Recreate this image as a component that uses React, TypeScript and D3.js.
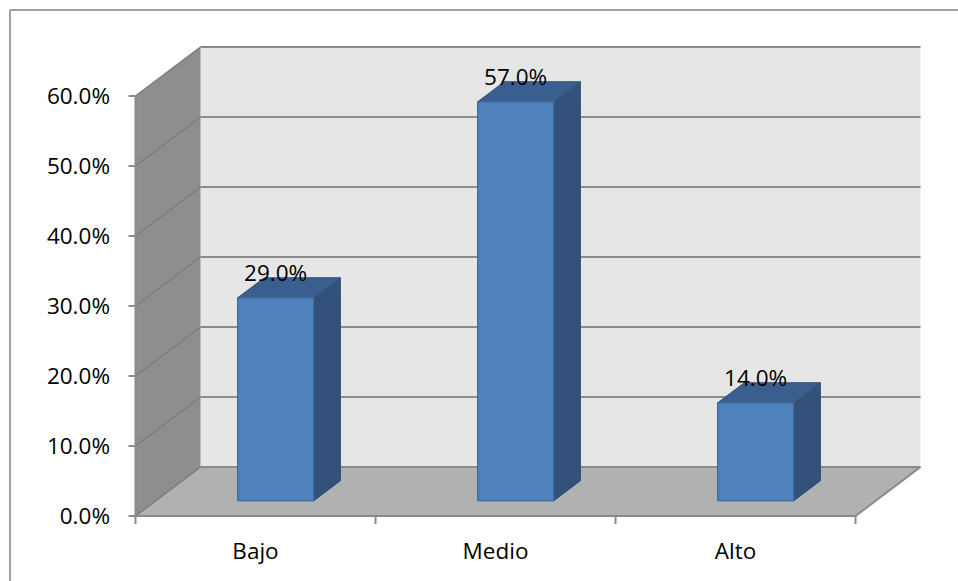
import React from "react";
import * as d3 from "d3";

const categories = ["Bajo", "Medio", "Alto"];
const values = [0.29, 0.57, 0.14];
const yTicks = [0, 0.1, 0.2, 0.3, 0.4, 0.5, 0.6];

const W = 958;
const H = 581;
const FONT = "'Open Sans', 'Noto Sans', sans-serif";
const FS = 22.5;

export default function App() {
  const x0 = 135.5;
  const x1 = 855.5;
  const DX = 65;
  const DY = -49;
  const y = d3.scaleLinear().domain([0, 0.6]).range([516, 96]);
  const band = d3.scaleBand<string>().domain(categories).range([x0, x1]).padding(0);
  const bw = band.bandwidth();
  const barW = bw * 0.317;
  const dStart = 0.31;
  const dDepth = 0.41;
  const fmt = d3.format(".1%");

  const pt = (x: number, yy: number, d: number) => [x + d * DX, yy + d * DY];
  const poly = (pts: number[][]) => pts.map((p) => p.join(",")).join(" ");

  const gridColor = "#8a8a8a";

  return (
    <svg width={W} height={H} style={{ display: "block", position: "absolute", left: 0, top: 0 }}>
      <rect x={0} y={0} width={W} height={H} fill="#ffffff" />
      <line x1={10} y1={10} x2={W} y2={10} stroke="#a0a0a0" strokeWidth={2} />
      <line x1={10} y1={10} x2={10} y2={H} stroke="#a0a0a0" strokeWidth={2} />

      <rect x={x0 + DX} y={y(0.6) + DY} width={x1 - x0} height={y(0) - y(0.6)} fill="#e6e6e6" />
      <polygon
        points={poly([pt(x0, y(0.6), 0), pt(x0, y(0.6), 1), pt(x0, y(0), 1), pt(x0, y(0), 0)])}
        fill="#8e8e8e"
      />
      <polygon
        points={poly([pt(x0, y(0), 0), pt(x1, y(0), 0), pt(x1, y(0), 1), pt(x0, y(0), 1)])}
        fill="#b1b1b1"
      />
      {yTicks.map((t) => {
        const [ax, ay] = pt(x0, y(t), 0);
        const [bx, by] = pt(x0, y(t), 1);
        const [cx, cy] = pt(x1, y(t), 1);
        return (
          <g key={t}>
            <line x1={ax} y1={ay} x2={bx} y2={by} stroke="#7c7c7c" strokeWidth={1.5} />
            <line x1={bx} y1={by} x2={cx} y2={cy} stroke={gridColor} strokeWidth={2} />
          </g>
        );
      })}
      <line x1={x0} y1={y(0)} x2={x1} y2={y(0)} stroke={gridColor} strokeWidth={2} />
      <line x1={x1} y1={y(0)} x2={x1 + DX} y2={y(0) + DY} stroke={gridColor} strokeWidth={2} />
      <line x1={x0} y1={y(0.6)} x2={x0} y2={y(0)} stroke={gridColor} strokeWidth={2} />
      {yTicks.map((t) => (
        <g key={"yt" + t}>
          <line x1={x0 - 7} y1={y(t)} x2={x0} y2={y(t)} stroke={gridColor} strokeWidth={2} />
          <text x={110} y={y(t)} dy="0.36em" textAnchor="end" fontFamily={FONT} fontSize={FS} fill="#000">
            {fmt(t)}
          </text>
        </g>
      ))}
      {[...categories.map((c) => band(c) as number), x1].map((xx, i) => (
        <line key={"xt" + i} x1={xx} y1={y(0)} x2={xx} y2={y(0) + 8} stroke={gridColor} strokeWidth={2} />
      ))}
      {categories.map((c) => (
        <text
          key={"xl" + c}
          x={(band(c) as number) + bw / 2}
          y={559}
          textAnchor="middle"
          fontFamily={FONT}
          fontSize={FS}
          fill="#000"
        >
          {c}
        </text>
      ))}
      {categories.map((c, i) => {
        const v = values[i];
        const left = (band(c) as number) + (bw - barW) / 2;
        const right = left + barW;
        const [fl, fb] = pt(left, y(0), dStart);
        const [fr] = pt(right, y(0), dStart);
        const ft = pt(left, y(v), dStart)[1];
        const d2 = dStart + dDepth;
        const [bl, bb] = pt(left, y(0), d2);
        const [br] = pt(right, y(0), d2);
        const bt = pt(left, y(v), d2)[1];
        return (
          <g key={"bar" + c}>
            <polygon points={poly([[fr, ft], [br, bt], [br, bb], [fr, fb]])} fill="#32527b" stroke="#2c4a70" strokeWidth={1} />
            <polygon points={poly([[fl, ft], [bl, bt], [br, bt], [fr, ft]])} fill="#3a5f8f" stroke="#33557f" strokeWidth={1} />
            <rect x={fl} y={ft} width={fr - fl} height={fb - ft} fill="#4f81bd" stroke="#41699a" strokeWidth={1.2} />
            <text x={(fl + fr) / 2} y={ft - 17} textAnchor="middle" fontFamily={FONT} fontSize={FS} fill="#000">
              {fmt(v)}
            </text>
          </g>
        );
      })}
    </svg>
  );
}
